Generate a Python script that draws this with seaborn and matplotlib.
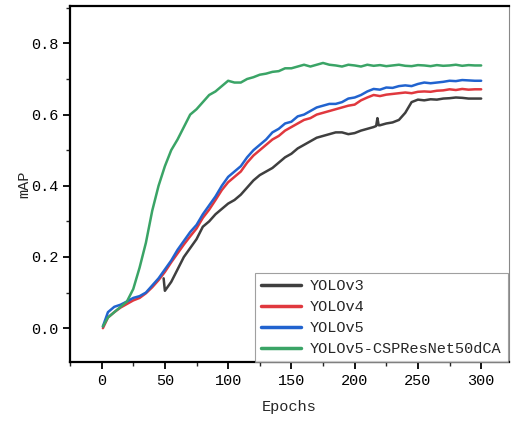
import numpy as np
import pandas as pd
import matplotlib
matplotlib.use("Agg")
import matplotlib.pyplot as plt
import seaborn as sns
from matplotlib.ticker import MultipleLocator

# ---- data ----
epochs = [1] + list(range(5, 301, 5))

yolov4 = [0.000, 0.030, 0.045, 0.058, 0.068, 0.078, 0.085, 0.098, 0.115, 0.135,
          0.158, 0.185, 0.210, 0.235, 0.258, 0.280, 0.310, 0.333, 0.360, 0.388,
          0.410, 0.425, 0.440, 0.465, 0.485, 0.500, 0.515, 0.530, 0.540, 0.555,
          0.565, 0.575, 0.585, 0.590, 0.600, 0.605, 0.610, 0.615, 0.620, 0.625,
          0.628, 0.640, 0.648, 0.655, 0.652, 0.656, 0.658, 0.660, 0.662, 0.660,
          0.664, 0.665, 0.664, 0.667, 0.668, 0.671, 0.669, 0.672, 0.670, 0.671,
          0.671]

yolov5 = [0.005, 0.045, 0.060, 0.066, 0.075, 0.085, 0.090, 0.100, 0.120, 0.140,
          0.165, 0.190, 0.220, 0.245, 0.270, 0.290, 0.320, 0.345, 0.370, 0.400,
          0.425, 0.440, 0.455, 0.480, 0.500, 0.515, 0.530, 0.550, 0.560, 0.575,
          0.580, 0.595, 0.600, 0.610, 0.620, 0.625, 0.630, 0.630, 0.635, 0.645,
          0.648, 0.655, 0.665, 0.672, 0.670, 0.676, 0.675, 0.680, 0.682, 0.680,
          0.686, 0.690, 0.688, 0.690, 0.692, 0.695, 0.694, 0.697, 0.696, 0.695,
          0.695]

yolov5_csp = [0.005, 0.030, 0.045, 0.060, 0.075, 0.110, 0.170, 0.240, 0.330, 0.400,
              0.455, 0.500, 0.530, 0.565, 0.600, 0.615, 0.635, 0.655, 0.665, 0.680,
              0.695, 0.690, 0.690, 0.700, 0.705, 0.712, 0.715, 0.720, 0.722, 0.730,
              0.730, 0.735, 0.740, 0.735, 0.740, 0.745, 0.740, 0.738, 0.735, 0.740,
              0.738, 0.735, 0.740, 0.737, 0.739, 0.736, 0.738, 0.740, 0.737, 0.736,
              0.739, 0.738, 0.736, 0.739, 0.737, 0.738, 0.740, 0.737, 0.739, 0.738,
              0.738]

yolov3_epochs = [49, 50, 55, 60, 65, 70, 75, 80, 85, 90, 95, 100, 105, 110, 115,
                 120, 125, 130, 135, 140, 145, 150, 155, 160, 165, 170, 175, 180,
                 185, 190, 195, 200, 205, 210, 215, 217, 218, 219, 220, 225, 230,
                 235, 240, 245, 250, 255, 260, 265, 270, 275, 280, 285, 290, 295, 300]
yolov3 = [0.140, 0.105, 0.130, 0.165, 0.200, 0.225, 0.250, 0.285, 0.300, 0.320,
          0.335, 0.350, 0.360, 0.375, 0.395, 0.415, 0.430, 0.440, 0.450, 0.465,
          0.480, 0.490, 0.505, 0.515, 0.525, 0.535, 0.540, 0.545, 0.550, 0.550,
          0.545, 0.548, 0.555, 0.560, 0.565, 0.568, 0.590, 0.570, 0.570, 0.575,
          0.578, 0.585, 0.605, 0.635, 0.642, 0.640, 0.643, 0.642, 0.645, 0.646,
          0.648, 0.647, 0.645, 0.645, 0.645]

names = ["YOLOv3", "YOLOv4", "YOLOv5", "YOLOv5-CSPResNet50dCA"]
colors = ["#3f3f3f", "#e0383e", "#2163cf", "#3aa466"]

# ---- long-format table ----
frames = [
    pd.DataFrame({"Epochs": yolov3_epochs, "mAP": yolov3, "model": names[0]}),
    pd.DataFrame({"Epochs": epochs, "mAP": yolov4, "model": names[1]}),
    pd.DataFrame({"Epochs": epochs, "mAP": yolov5, "model": names[2]}),
    pd.DataFrame({"Epochs": epochs, "mAP": yolov5_csp, "model": names[3]}),
]
df = pd.concat(frames, ignore_index=True)

sns.set_style("ticks")
plt.rcParams["font.family"] = ["Liberation Mono", "DejaVu Sans"]

fig = plt.figure(figsize=(5.13, 4.21), dpi=100)
ax = fig.add_axes([70 / 513, 59 / 421, 439 / 513, 356 / 421])

sns.lineplot(data=df, x="Epochs", y="mAP", hue="model", hue_order=names,
             palette=dict(zip(names, colors)), linewidth=1.8, ax=ax,
             estimator=None, sort=False)

ax.set_xlim(-25, 322)
ax.set_ylim(-0.095, 0.905)
ax.xaxis.set_major_locator(MultipleLocator(50))
ax.xaxis.set_minor_locator(MultipleLocator(25))
ax.yaxis.set_major_locator(MultipleLocator(0.2))
ax.yaxis.set_minor_locator(MultipleLocator(0.1))
ax.yaxis.set_major_formatter(matplotlib.ticker.FuncFormatter(lambda v, p: f"{v:.1f}"))

ax.tick_params(which="major", direction="out", length=5, width=1.3,
               labelsize=11, colors="black")
ax.tick_params(which="minor", direction="out", length=3, width=1.0)

for side in ["top", "left", "bottom"]:
    ax.spines[side].set_linewidth(1.6)
    ax.spines[side].set_color("black")
ax.spines["right"].set_linewidth(0.8)
ax.spines["right"].set_color("#888888")

ax.set_xlabel("Epochs", fontsize=11, labelpad=9)
ax.set_ylabel("mAP", fontsize=11, labelpad=0)

leg = ax.legend(loc="lower right", bbox_to_anchor=(0.997, 0.0), borderaxespad=0,
                frameon=True, fancybox=False, fontsize=11, handlelength=2.6,
                labelspacing=0.45, handletextpad=0.6, borderpad=0.4)
leg.get_frame().set_edgecolor("#888888")
leg.get_frame().set_linewidth(0.8)
for line in leg.get_lines():
    line.set_linewidth(2.5)

fig.savefig("out.png", dpi=100)
